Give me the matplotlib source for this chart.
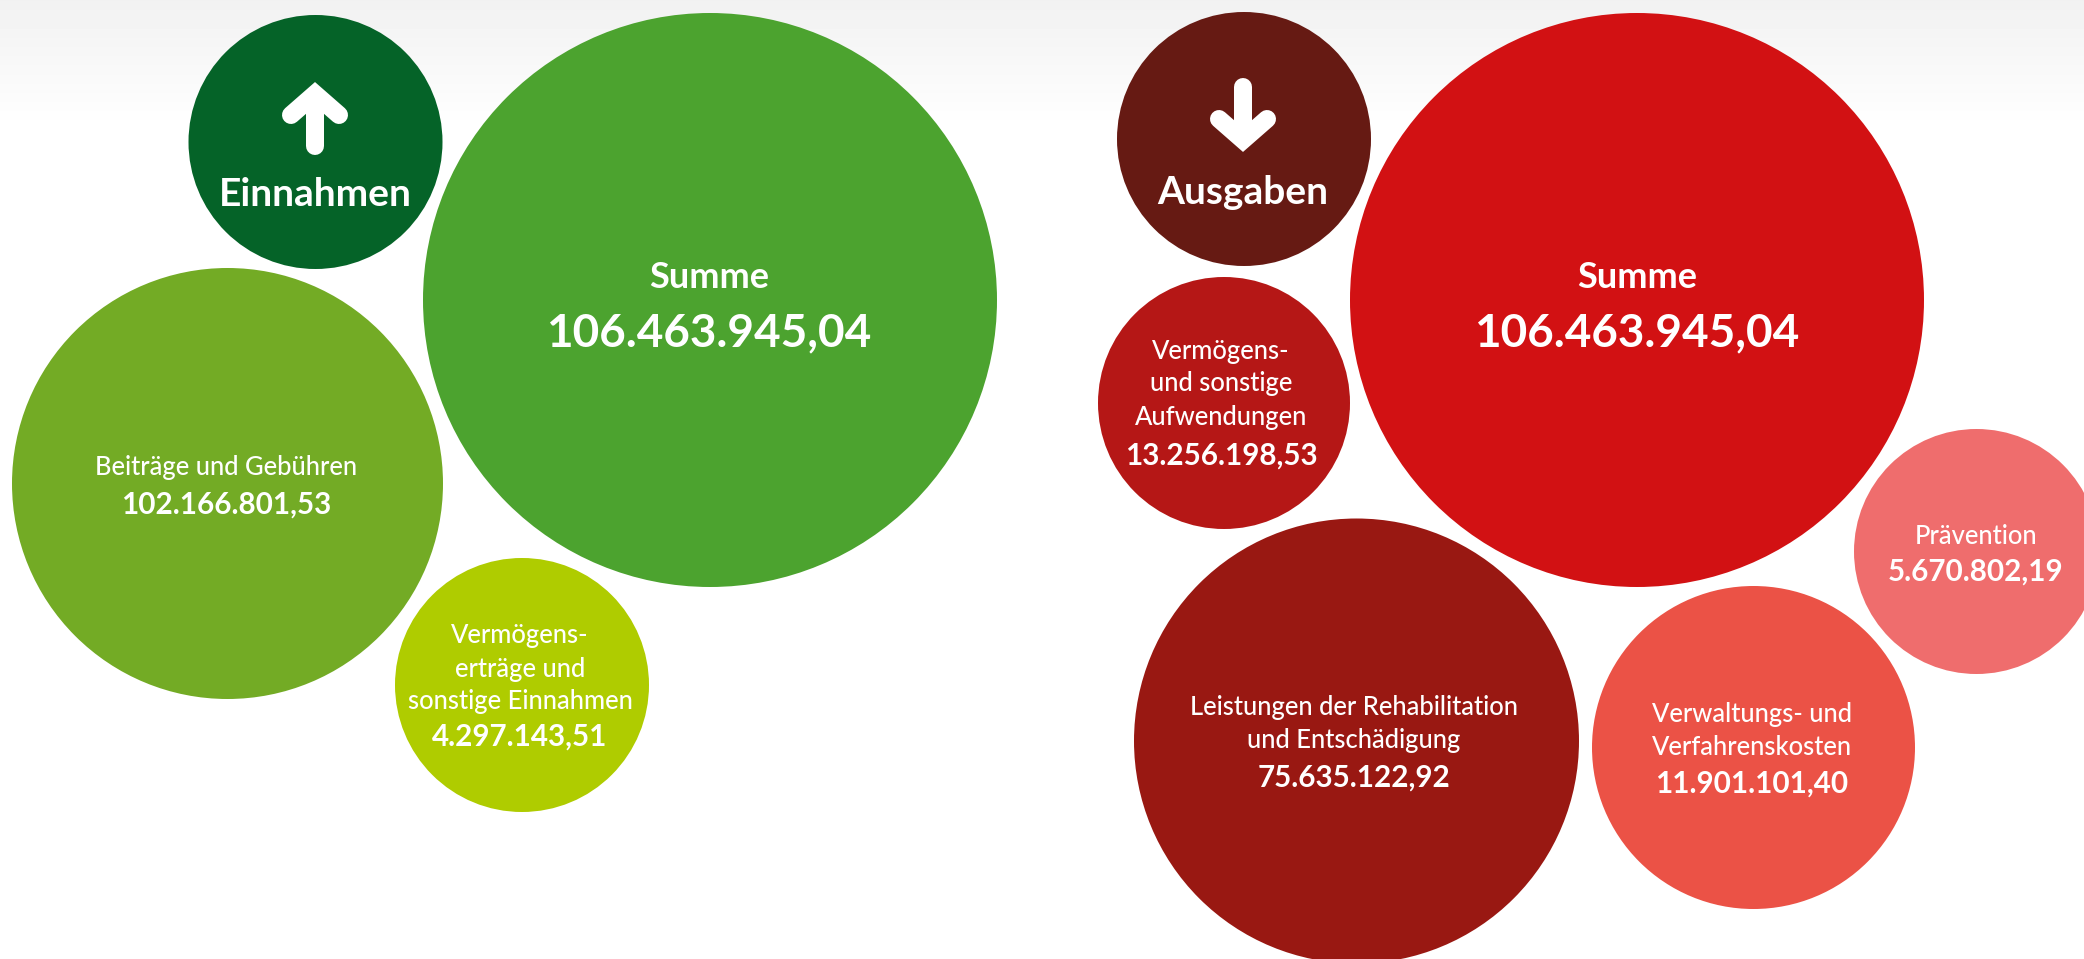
import numpy as np
import matplotlib
matplotlib.use('Agg')
import matplotlib.pyplot as plt
from matplotlib.patches import Circle

plt.rcParams['font.family'] = ['Lato', 'DejaVu Sans']

# values as printed in the picture
einnahmen_labels = ['Summe', 'Beiträge und Gebühren', 'Vermögens-\nerträge und\nsonstige Einnahmen']
einnahmen_values = ['106.463.945,04', '102.166.801,53', '4.297.143,51']
ausgaben_labels = ['Summe', 'Vermögens-\nund sonstige\nAufwendungen',
                   'Leistungen der Rehabilitation\nund Entschädigung',
                   'Verwaltungs- und\nVerfahrenskosten', 'Prävention']
ausgaben_values = ['106.463.945,04', '13.256.198,53', '75.635.122,92', '11.901.101,40', '5.670.802,19']

# layout, in pixels of the 2084x959 picture
einnahmen_x = [710, 227.5, 522]
einnahmen_y = [300, 483.5, 685]
einnahmen_r = [287, 215.5, 127]
einnahmen_colors = ['#4ca32f', '#73ab25', '#afcc00']
ausgaben_x = [1637, 1224, 1356.5, 1753.5, 1976.5]
ausgaben_y = [300, 403, 741, 747.5, 551.5]
ausgaben_r = [287, 126, 222.5, 161.5, 122.5]
ausgaben_colors = ['#d21113', '#b51716', '#991812', '#eb5246', '#ef6d6d']

# label lines: y of each block and value line, font sizes
einnahmen_label_y = [277, 468, 669]
einnahmen_value_y = [333, 505, 737]
einnahmen_text_x = [709, 226, 520]
einnahmen_label_fs = [26, 18.4, 18.4]
einnahmen_value_fs = [33, 21.3, 21.3]
ausgaben_label_y = [277, 384, 724, 731, 536]
ausgaben_value_y = [333, 456, 778, 784, 572]
ausgaben_text_x = [1637, 1221, 1354, 1752, 1976]
ausgaben_label_fs = [26, 18.4, 18.4, 18.4, 18.4]
ausgaben_value_fs = [33, 21.3, 21.3, 21.3, 21.3]

fig = plt.figure(figsize=(20.84, 9.59), dpi=100)
ax = fig.add_axes([0, 0, 1, 1])
ax.axis('off')

# grey fade at the top of the page
fade = np.linspace(0.945, 1.0, 130).reshape(-1, 1)
ax.imshow(fade, cmap='gray', vmin=0, vmax=1, extent=[0, 2084, 130, 0], aspect='auto', zorder=0)
ax.set_xlim(0, 2084)
ax.set_ylim(959, 0)


def bubbles(xs, ys, rs, colors):
    for x, y, r, c in zip(xs, ys, rs, colors):
        ax.add_patch(Circle((x, y), r, color=c, lw=0, zorder=2))


def labels(xs, label_y, value_y, names, vals, label_fs, value_fs):
    for i in range(len(names)):
        ax.text(xs[i], label_y[i], names[i], color='white', ha='center', va='center',
                fontsize=label_fs[i], fontweight='bold' if label_fs[i] > 20 else 'medium',
                linespacing=1.4, zorder=3)
        ax.text(xs[i], value_y[i], vals[i], color='white', ha='center', va='center',
                fontsize=value_fs[i], fontweight='bold', zorder=3)


bubbles(einnahmen_x, einnahmen_y, einnahmen_r, einnahmen_colors)
bubbles(ausgaben_x, ausgaben_y, ausgaben_r, ausgaben_colors)
ax.add_patch(Circle((315.5, 142), 127, color='#056328', lw=0, zorder=2))
ax.add_patch(Circle((1244, 139), 127, color='#661a13', lw=0, zorder=2))

labels(einnahmen_text_x, einnahmen_label_y, einnahmen_value_y, einnahmen_labels, einnahmen_values,
       einnahmen_label_fs, einnahmen_value_fs)
labels(ausgaben_text_x, ausgaben_label_y, ausgaben_value_y, ausgaben_labels, ausgaben_values,
       ausgaben_label_fs, ausgaben_value_fs)

ax.text(315, 194, 'Einnahmen', color='white', ha='center', va='center', fontsize=28, fontweight='bold', zorder=3)
ax.text(1243, 192, 'Ausgaben', color='white', ha='center', va='center', fontsize=28, fontweight='bold', zorder=3)

# arrows
arrow_lw = 18 * 72 / 100
ax.plot([315, 315], [100, 146], color='white', lw=arrow_lw, solid_capstyle='round', zorder=3)
ax.plot([291, 315, 339], [115, 94, 115], color='white', lw=arrow_lw, solid_capstyle='round',
        solid_joinstyle='miter', zorder=3)
ax.plot([1243, 1243], [87, 130], color='white', lw=arrow_lw, solid_capstyle='round', zorder=3)
ax.plot([1219, 1243, 1267], [119, 140, 119], color='white', lw=arrow_lw, solid_capstyle='round',
        solid_joinstyle='miter', zorder=3)

fig.savefig('out.png', dpi=100)
